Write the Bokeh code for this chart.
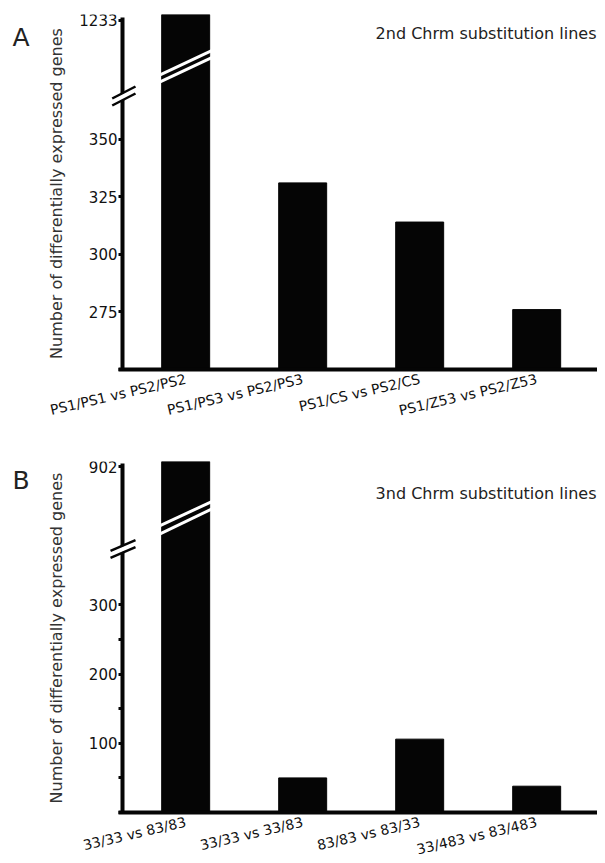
from bokeh.plotting import figure
from bokeh.models import Range1d, FixedTicker, Label, Arrow, LinearAxis
from bokeh.layouts import column
from bokeh.embed import file_html
from bokeh.resources import INLINE

# ---------------- data ----------------
a_categories = ["PS1/PS1 vs PS2/PS2", "PS1/PS3 vs PS2/PS3", "PS1/CS vs PS2/CS", "PS1/Z53 vs PS2/Z53"]
a_values = [1233, 331, 314, 276]
a_low_ticks = [250, 275, 300, 325, 350]
a_high_ticks = [1233]
a_title = "2nd Chrm substitution lines"

b_categories = ["33/33 vs 83/83", "33/33 vs 33/83", "83/83 vs 83/33", "33/483 vs 83/483"]
b_values = [902, 50, 106, 38]
b_low_ticks = [0, 100, 200, 300]
b_low_minor = [50, 150, 250]
b_high_ticks = [902]
b_title = "3nd Chrm substitution lines"

y_label = "Number of differentially expressed genes"

FONT = "DejaVu Sans"
BLACK = "#050505"
X_RANGE = (-1.5827, 3.5198)
X_AXIS_BOUNDS = (-0.57, 3.52)
Y_AXIS_X = -0.54


def style_yaxis(ax):
    ax.axis_line_width = 4
    ax.axis_line_color = BLACK
    ax.major_tick_line_width = 3
    ax.major_tick_line_color = BLACK
    ax.major_tick_out = 4
    ax.major_tick_in = 0
    ax.minor_tick_line_width = 3
    ax.minor_tick_line_color = BLACK
    ax.minor_tick_out = 4
    ax.minor_tick_in = 0
    ax.major_label_text_font = FONT
    ax.major_label_text_font_size = "15px"
    ax.major_label_text_color = "#111111"
    ax.major_label_standoff = 1


def seg(p, x0, y0, x1, y1, color, w):
    p.add_layout(Arrow(x_start=x0, y_start=y0, x_end=x1, y_end=y1,
                       start_units="screen", end_units="screen",
                       start=None, end=None, line_color=color, line_width=w))


def panel(cats, vals, lo_range, hi_range, lo_ticks, lo_minor, hi_ticks, y_top,
          title, title_y, letter, letter_y, mt, fh, xstand, slash_bar, slash_axis):
    xs = list(range(len(cats)))
    p = figure(frame_width=597, frame_height=fh,
               x_range=Range1d(*X_RANGE), y_range=Range1d(*lo_range),
               output_backend="svg", toolbar_location=None,
               min_border_left=0, min_border_right=0,
               min_border_top=mt, min_border_bottom=0)
    p.extra_y_ranges = {"upper": Range1d(*hi_range)}
    p.outline_line_color = None
    p.grid.visible = False

    p.vbar(x=xs, top=vals, bottom=lo_ticks[0], width=0.41,
           fill_color=BLACK, line_color=BLACK)

    # lower (main) y axis, drawn inside the canvas at a fixed x
    ya = p.yaxis[0]
    style_yaxis(ya)
    ya.fixed_location = Y_AXIS_X
    ya.bounds = (lo_ticks[0], y_top)
    ya.ticker = FixedTicker(ticks=lo_ticks, minor_ticks=lo_minor)
    ya.major_label_overrides = {lo_ticks[0]: ""}
    ya.axis_label = y_label
    ya.axis_label_text_font = FONT
    ya.axis_label_text_font_size = "16px"
    ya.axis_label_text_font_style = "normal"
    ya.axis_label_text_color = "#333333"
    ya.axis_label_standoff = 20

    # upper segment (above the break) on the same spine
    ua = LinearAxis(y_range_name="upper", fixed_location=Y_AXIS_X,
                    ticker=FixedTicker(ticks=hi_ticks, minor_ticks=[]))
    style_yaxis(ua)
    ua.axis_line_color = None
    p.add_layout(ua, "left")

    # x axis
    xa = p.xaxis[0]
    xa.fixed_location = lo_ticks[0]
    xa.bounds = X_AXIS_BOUNDS
    xa.ticker = FixedTicker(ticks=xs, minor_ticks=[])
    xa.major_label_overrides = {i: c for i, c in zip(xs, cats)}
    xa.major_label_orientation = 0.23
    xa.axis_line_width = 4
    xa.axis_line_color = BLACK
    xa.major_tick_out = 0
    xa.major_tick_in = 0
    xa.minor_tick_out = 0
    xa.minor_tick_in = 0
    xa.major_label_text_font = FONT
    xa.major_label_text_font_size = "14px"
    xa.major_label_text_color = "#111111"
    xa.major_label_standoff = xstand

    # texts
    p.add_layout(Label(x=596, y=title_y, x_units="screen", y_units="screen",
                       text=title, text_align="right", text_baseline="middle",
                       text_font=FONT, text_font_size="16px", text_color="#222222"))
    p.add_layout(Label(x=12, y=letter_y, x_units="screen", y_units="screen",
                       text=letter, text_font=FONT, text_font_size="25px",
                       text_color="#222222", text_baseline="alphabetic"))

    # break marks: white double slash across the tall bar, double slash on the axis
    for (x0, y0, x1, y1) in slash_bar:
        seg(p, x0, y0, x1, y1, "white", 3)
    (ax0, ay0, ax1, ay1) = slash_axis
    seg(p, ax0, ay0 + 3.5, ax1, ay1 + 3.5, "white", 5)
    seg(p, ax0, ay0 + 7, ax1, ay1 + 7, BLACK, 2.5)
    seg(p, ax0, ay0, ax1, ay1, BLACK, 2.5)
    return p


pa = panel(a_categories, a_values, (229.17, 404.08), (1060.48, 1235.39),
           a_low_ticks, [], a_high_ticks, 402.8,
           a_title, 384, "A", 380, mt=14, fh=403, xstand=9,
           slash_bar=[(158, 341.8, 216, 369.1), (158, 334.9, 216, 362.1)],
           slash_axis=(111.7, 312, 135, 324))

# panel B frame: page y 461 -> 860 (399 px); 0 sits at page y 812
pb = panel(b_categories, b_values, (-69.36, 507.2), (332.64, 909.23),
           b_low_ticks, b_low_minor, b_high_ticks, 505,
           b_title, 367, "B", 380, mt=44, fh=399, xstand=9,
           slash_bar=[(158, 334.1, 214, 360.2), (158, 325.8, 214, 352.8)],
           slash_axis=(110, 302.7, 135, 313.3))

layout = column(pa, pb, spacing=0)

open("out.html", "w").write(file_html(layout, INLINE))
